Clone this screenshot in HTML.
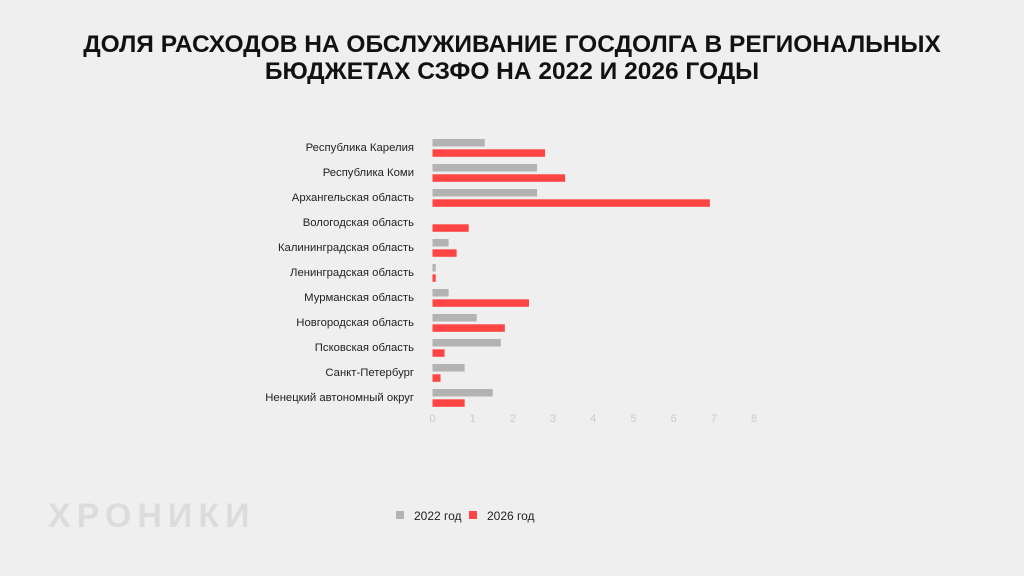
<!DOCTYPE html>
<html><head><meta charset="utf-8"><style>
body{margin:0;background:#efefef;}
#wrap{position:relative;width:1024px;height:576px;overflow:hidden;background:#efefef;font-family:"Liberation Sans",sans-serif;}
#title{position:absolute;left:0;top:31px;width:1024px;text-align:center;font-weight:bold;font-size:24.5px;line-height:27px;color:#111;}
#logo{position:absolute;left:48px;top:497px;font-size:34px;font-weight:bold;letter-spacing:6px;color:#dcdcdc;}
</style></head><body>
<div id="wrap">
<div id="title">ДОЛЯ РАСХОДОВ НА ОБСЛУЖИВАНИЕ ГОСДОЛГА В РЕГИОНАЛЬНЫХ<br>БЮДЖЕТАХ СЗФО НА 2022 И 2026 ГОДЫ</div>
<div id="logo">ХРОНИКИ</div>
<svg id="chart" width="1024" height="576" style="position:absolute;left:0;top:0"></svg>
</div>
<script>
const categories=["Республика Карелия","Республика Коми","Архангельская область","Вологодская область","Калининградская область","Ленинградская область","Мурманская область","Новгородская область","Псковская область","Санкт-Петербург","Ненецкий автономный округ"];
const values2022=[1.3,2.6,2.6,0,0.4,0.08,0.4,1.1,1.7,0.8,1.5];
const values2026=[2.8,3.3,6.9,0.9,0.6,0.08,2.4,1.8,0.3,0.2,0.8];
const ticks=[0,1,2,3,4,5,6,7,8];
const seriesNames=["2022 год","2026 год"];
const NS="http://www.w3.org/2000/svg";
const svg=document.getElementById('chart');
const x=v=>432.5+v*40.2;
const rowY=i=>148+i*25;
function mk(t,a){const e=document.createElementNS(NS,t);for(const k in a)e.setAttribute(k,a[k]);svg.appendChild(e);return e;}
categories.forEach((c,i)=>{
  const cy=rowY(i);
  const t=mk('text',{x:414,y:cy+3,'text-anchor':'end','font-size':'11.3px','font-family':'Liberation Sans, sans-serif',fill:'#222'});
  t.textContent=c;
  
  
  const g=mk('rect',{x:x(0),y:cy-9,width:x(values2022[i])-x(0),height:7.5,fill:'#b3b3b3'});
  
  
  const r=mk('rect',{x:x(0),y:cy+1.3,width:x(values2026[i])-x(0),height:7.5,fill:'#ff4444'});
  
  
});
ticks.forEach(v=>{
  const t=mk('text',{x:x(v),y:422,'text-anchor':'middle','font-size':'11px','font-family':'Liberation Sans, sans-serif',fill:'#cacaca'});
  t.textContent=v;
  
  
});
const legX=[396,469],legC=['#b3b3b3','#ff4444'];
seriesNames.forEach((n,i)=>{
  const s=mk('rect',{x:legX[i],y:511,width:8,height:8,fill:legC[i]});
  
  
  const t=mk('text',{x:legX[i]+18,y:520,'font-size':'12px','font-family':'Liberation Sans, sans-serif',fill:'#222'});
  t.textContent=n;
  
  
});
</script>
</body></html>
